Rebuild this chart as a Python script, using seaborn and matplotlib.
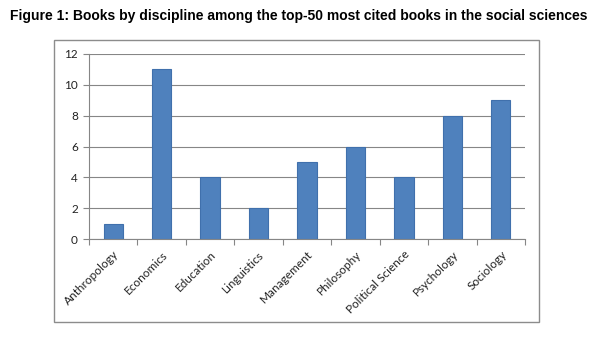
import matplotlib
matplotlib.use("Agg")
import matplotlib.pyplot as plt
import seaborn as sns
import pandas as pd
from matplotlib.patches import Rectangle

categories = ["Anthropology", "Economics", "Education", "Linguistics", "Management",
              "Philosophy", "Political Science", "Psychology", "Sociology"]
values = [1, 11, 4, 2, 5, 6, 4, 8, 9]
yticks = [0, 2, 4, 6, 8, 10, 12]
title = "Figure 1: Books by discipline among the top-50 most cited books in the social sciences"

df = pd.DataFrame({"discipline": categories, "books": values})

sns.set_theme(style="white")
plt.rcParams["font.family"] = ["Lato", "DejaVu Sans"]

W, H = 602, 359
fig = plt.figure(figsize=(W / 100, H / 100), dpi=100)
fig.patch.set_facecolor("white")

# axes placement in pixels
x0, x1 = 89, 525
y0, y1 = 54, 239
ax = fig.add_axes([x0 / W, 1 - y1 / H, (x1 - x0) / W, (y1 - y0) / H])

sns.barplot(data=df, x="discipline", y="books", ax=ax, color="#4F81BD",
            width=0.4, saturation=1, edgecolor="#4070AC", linewidth=0.8)

ax.set_ylim(0, 12)
ax.set_xlim(-0.5, len(categories) - 0.5)
ax.set_yticks(yticks)
ax.set_yticklabels([str(v) for v in yticks], fontsize=8.5, color="#222222")
ax.yaxis.grid(True, color="#868686", linewidth=0.8)
ax.set_axisbelow(True)
ax.set_xlabel("")
ax.set_ylabel("")

for s in ["top", "right"]:
    ax.spines[s].set_visible(False)
for s in ["left", "bottom"]:
    ax.spines[s].set_color("#868686")
    ax.spines[s].set_linewidth(0.8)

ax.tick_params(axis="y", left=True, length=4, width=0.8, color="#868686", pad=4)
ax.set_xticks(range(len(categories)))
ax.set_xticklabels(categories, rotation=45, ha="right", rotation_mode="anchor",
                   fontsize=8.5, color="#222222")
ax.tick_params(axis="x", bottom=False, pad=1)
for lbl in ax.get_xticklabels():
    lbl.set_x(lbl.get_position()[0])
# minor ticks between categories
ax.set_xticks([i - 0.5 for i in range(len(categories) + 1)], minor=True)
ax.tick_params(axis="x", which="minor", bottom=True, length=4, width=0.8, color="#868686")

# chart frame
fig.patches.append(Rectangle((54 / W, 1 - 322 / H), (539 - 54) / W, (322 - 40) / H,
                             transform=fig.transFigure, fill=False,
                             edgecolor="#8C8C8C", linewidth=1.0))

fig.text(299 / W, 1 - 16 / H, title, ha="center", va="center", fontsize=10,
         fontweight="bold", family=["Liberation Sans", "DejaVu Sans"], color="black")

fig.savefig("out.png", dpi=100)
